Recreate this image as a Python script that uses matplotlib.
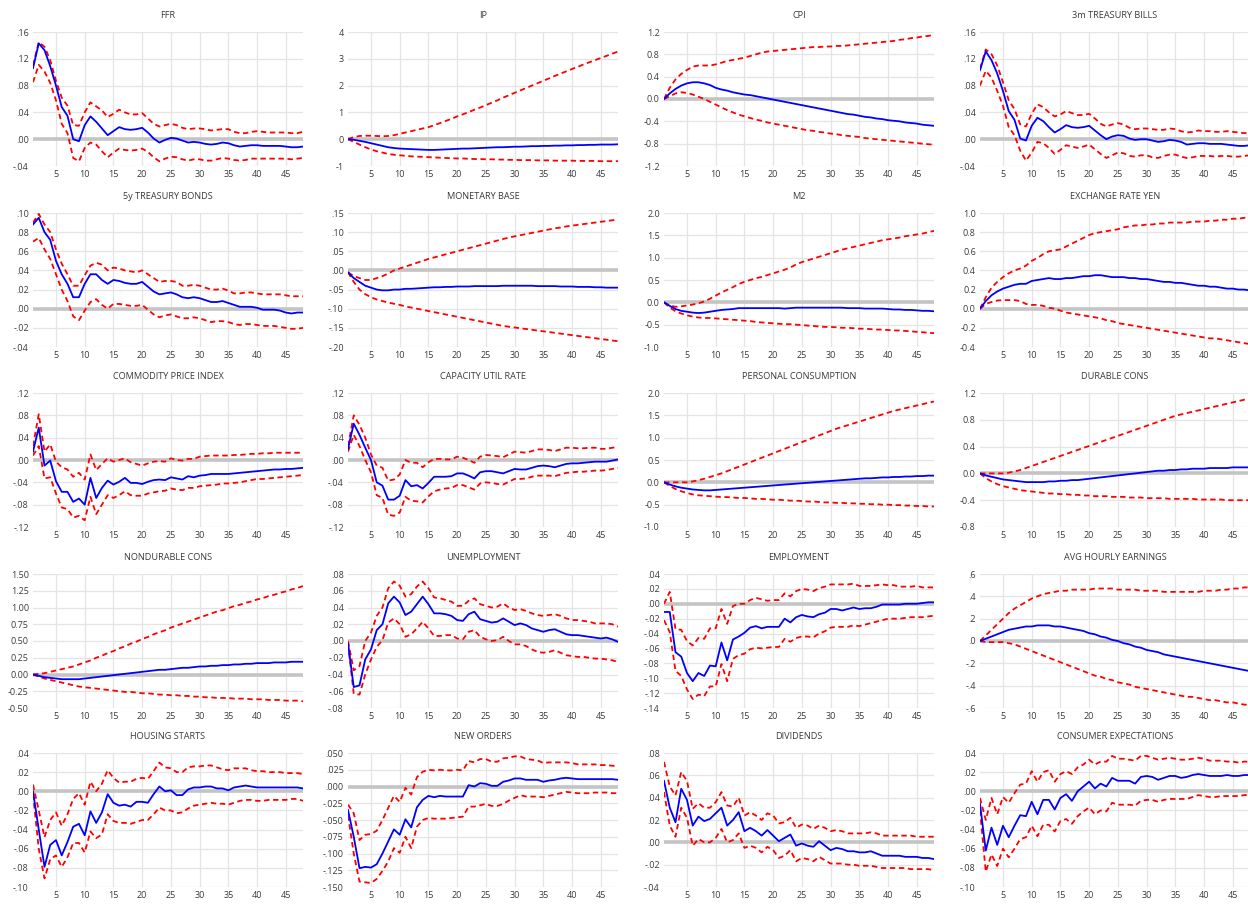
import matplotlib.pyplot as plt

plt.rcParams['font.family'] = ['Open Sans', 'DejaVu Sans']

periods = list(range(1, 49))

# impulse responses: point estimate (mid) with lower / upper bands
ffr_mid = [.106, .143, .133, .109, .080, .048, .035, .000, -.003, .021, .034, .026, .016, .006, .012, .018, .015, .014, .015, .017, .010, .001, -.005, -.001, .002, .001, -.002, -.005, -.004, -.005, -.007, -.008, -.007, -.005, -.006, -.009, -.011, -.010, -.009, -.009, -.010, -.010, -.010, -.010, -.011, -.012, -.012, -.011]
ffr_hi = [.110, .145, .138, .118, .087, .062, .050, .021, .020, .040, .055, .049, .043, .033, .038, .044, .040, .037, .037, .039, .031, .023, .019, .021, .023, .021, .017, .015, .016, .016, .015, .013, .014, .015, .015, .011, .009, .009, .011, .012, .011, .010, .010, .010, .010, .009, .009, .011]
ffr_lo = [.085, .111, .101, .084, .058, .023, .009, -.028, -.033, -.013, -.005, -.008, -.018, -.027, -.020, -.014, -.016, -.017, -.016, -.014, -.019, -.027, -.033, -.029, -.026, -.027, -.030, -.032, -.030, -.030, -.032, -.032, -.030, -.028, -.029, -.031, -.032, -.031, -.029, -.029, -.029, -.029, -.029, -.029, -.029, -.030, -.029, -.028]

ip_mid = [0, -.02, -.06, -.10, -.15, -.20, -.25, -.30, -.33, -.35, -.36, -.37, -.38, -.39, -.40, -.40, -.39, -.38, -.37, -.36, -.35, -.35, -.34, -.33, -.32, -.31, -.30, -.30, -.29, -.28, -.28, -.27, -.26, -.26, -.25, -.25, -.24, -.24, -.23, -.23, -.22, -.22, -.21, -.21, -.20, -.20, -.20, -.19]
ip_hi = [0, .08, .12, .13, .13, .12, .11, .12, .15, .20, .25, .30, .35, .40, .45, .52, .60, .68, .76, .85, .93, 1.01, 1.10, 1.18, 1.27, 1.36, 1.45, 1.55, 1.64, 1.73, 1.82, 1.91, 2.00, 2.09, 2.18, 2.27, 2.36, 2.45, 2.53, 2.62, 2.70, 2.79, 2.87, 2.95, 3.03, 3.11, 3.19, 3.27]
ip_lo = [0, -.10, -.20, -.30, -.38, -.45, -.50, -.55, -.58, -.60, -.62, -.64, -.65, -.66, -.67, -.68, -.69, -.70, -.71, -.72, -.72, -.73, -.74, -.74, -.75, -.75, -.76, -.76, -.77, -.77, -.78, -.78, -.78, -.79, -.79, -.79, -.80, -.80, -.80, -.80, -.81, -.81, -.81, -.81, -.82, -.82, -.82, -.82]

cpi_mid = [0, .10, .18, .24, .28, .30, .30, .28, .25, .20, .17, .15, .12, .10, .08, .07, .05, .03, .01, -.01, -.03, -.05, -.07, -.09, -.11, -.13, -.15, -.17, -.19, -.21, -.23, -.25, -.27, -.28, -.30, -.32, -.33, -.35, -.36, -.38, -.39, -.40, -.42, -.43, -.44, -.46, -.47, -.48]
cpi_hi = [0, .20, .35, .45, .52, .58, .60, .60, .60, .62, .65, .68, .70, .72, .74, .77, .80, .83, .85, .86, .87, .88, .89, .90, .91, .92, .93, .93, .94, .94, .95, .95, .96, .97, .98, .99, 1.00, 1.01, 1.02, 1.03, 1.04, 1.06, 1.07, 1.09, 1.10, 1.12, 1.13, 1.15]
cpi_lo = [0, .05, .10, .12, .11, .08, .04, 0, -.05, -.10, -.15, -.20, -.24, -.28, -.31, -.34, -.37, -.39, -.42, -.44, -.46, -.48, -.50, -.52, -.54, -.56, -.57, -.59, -.60, -.62, -.63, -.65, -.66, -.67, -.68, -.70, -.71, -.72, -.73, -.74, -.75, -.76, -.77, -.78, -.79, -.80, -.81, -.82]

tb3_mid = [.103, .131, .118, .098, .072, .042, .029, .001, -.002, .020, .032, .027, .018, .010, .015, .021, .018, .017, .018, .020, .013, .006, .000, .004, .006, .005, .001, -.001, .000, .000, -.002, -.004, -.003, -.001, -.002, -.004, -.008, -.007, -.006, -.006, -.007, -.007, -.007, -.008, -.009, -.010, -.010, -.009]
tb3_hi = [.105, .134, .127, .110, .085, .058, .045, .022, .019, .038, .052, .048, .040, .034, .037, .042, .039, .036, .036, .038, .031, .023, .019, .022, .024, .022, .017, .015, .016, .016, .015, .014, .014, .016, .015, .012, .010, .011, .013, .012, .012, .011, .011, .012, .011, .010, .009, .010]
tb3_lo = [.080, .102, .092, .072, .050, .018, .006, -.017, -.032, -.020, -.004, -.006, -.013, -.022, -.016, -.009, -.011, -.013, -.011, -.008, -.015, -.022, -.028, -.024, -.020, -.021, -.025, -.026, -.024, -.024, -.027, -.028, -.025, -.023, -.023, -.026, -.028, -.027, -.025, -.025, -.025, -.026, -.025, -.025, -.026, -.026, -.025, -.024]

tb5_mid = [.088, .095, .080, .072, .050, .036, .026, .012, .012, .026, .036, .036, .030, .026, .030, .029, .027, .026, .026, .028, .023, .018, .015, .016, .017, .015, .012, .011, .012, .011, .009, .007, .007, .008, .006, .004, .002, .002, .002, .001, -.001, -.001, -.001, -.002, -.004, -.005, -.004, -.004]
tb5_hi = [.090, .099, .088, .080, .062, .047, .036, .024, .024, .035, .045, .048, .046, .040, .043, .042, .040, .039, .038, .040, .036, .032, .028, .029, .029, .028, .024, .024, .025, .024, .022, .020, .020, .021, .019, .016, .016, .017, .017, .016, .015, .015, .015, .015, .014, .013, .013, .013]
tb5_lo = [.070, .074, .062, .052, .036, .020, .008, -.008, -.012, -.002, .007, .010, .004, .000, .005, .005, .004, .003, .003, .004, -.001, -.006, -.009, -.007, -.006, -.008, -.010, -.010, -.009, -.010, -.012, -.014, -.013, -.013, -.014, -.016, -.017, -.016, -.016, -.017, -.018, -.018, -.018, -.019, -.020, -.021, -.021, -.020]

mb_mid = [-.005, -.020, -.030, -.040, -.045, -.050, -.052, -.052, -.050, -.050, -.048, -.048, -.047, -.046, -.045, -.044, -.044, -.043, -.043, -.042, -.042, -.042, -.041, -.041, -.041, -.041, -.041, -.040, -.040, -.040, -.040, -.040, -.040, -.041, -.041, -.041, -.041, -.042, -.042, -.042, -.043, -.043, -.043, -.044, -.044, -.045, -.045, -.045]
mb_hi = [-.005, -.015, -.020, -.025, -.025, -.020, -.015, -.008, .000, .005, .010, .015, .020, .025, .030, .034, .038, .042, .046, .050, .054, .058, .062, .066, .070, .074, .078, .082, .086, .089, .092, .095, .098, .101, .104, .107, .110, .112, .115, .117, .119, .121, .123, .125, .127, .129, .131, .133]
mb_lo = [-.005, -.030, -.050, -.062, -.070, -.076, -.080, -.084, -.087, -.090, -.094, -.097, -.100, -.103, -.106, -.109, -.112, -.115, -.118, -.121, -.124, -.127, -.130, -.133, -.136, -.139, -.142, -.145, -.147, -.149, -.151, -.153, -.155, -.157, -.159, -.161, -.163, -.165, -.167, -.169, -.171, -.173, -.175, -.177, -.179, -.181, -.183, -.185]

m2_mid = [0, -.08, -.15, -.19, -.21, -.23, -.24, -.23, -.21, -.19, -.17, -.16, -.15, -.13, -.13, -.13, -.13, -.13, -.13, -.13, -.13, -.14, -.13, -.12, -.12, -.12, -.12, -.12, -.12, -.12, -.12, -.12, -.13, -.13, -.13, -.14, -.14, -.14, -.14, -.15, -.16, -.16, -.17, -.17, -.18, -.19, -.19, -.20]
m2_hi = [0, -.07, -.10, -.09, -.07, -.05, -.02, .02, .08, .15, .22, .28, .34, .41, .46, .50, .54, .57, .61, .65, .69, .73, .78, .85, .90, .94, .98, 1.02, 1.06, 1.10, 1.14, 1.18, 1.21, 1.24, 1.27, 1.30, 1.33, 1.36, 1.39, 1.41, 1.43, 1.45, 1.48, 1.50, 1.52, 1.54, 1.57, 1.60]
m2_lo = [0, -.12, -.20, -.25, -.29, -.32, -.34, -.35, -.35, -.36, -.37, -.38, -.39, -.40, -.41, -.42, -.44, -.45, -.46, -.47, -.48, -.49, -.49, -.50, -.51, -.52, -.53, -.54, -.55, -.55, -.56, -.57, -.57, -.58, -.59, -.59, -.60, -.61, -.61, -.62, -.63, -.63, -.64, -.65, -.66, -.67, -.68, -.69]

yen_mid = [0, .08, .14, .18, .21, .23, .25, .26, .26, .29, .30, .31, .32, .31, .31, .32, .32, .33, .34, .34, .35, .35, .34, .33, .33, .33, .32, .32, .31, .31, .30, .29, .28, .28, .27, .27, .26, .25, .24, .24, .23, .23, .22, .21, .21, .20, .20, .19]
yen_hi = [0, .12, .22, .28, .33, .37, .40, .42, .45, .50, .53, .57, .60, .61, .62, .65, .68, .71, .74, .77, .79, .80, .81, .82, .83, .85, .86, .87, .87, .88, .88, .89, .89, .90, .90, .90, .90, .91, .91, .91, .92, .92, .93, .93, .94, .94, .95, .95]
yen_lo = [0, .05, .07, .085, .09, .09, .09, .08, .05, .04, .04, .03, .01, 0, -.02, -.04, -.05, -.06, -.07, -.08, -.09, -.10, -.12, -.13, -.15, -.16, -.17, -.18, -.19, -.20, -.21, -.22, -.23, -.24, -.25, -.26, -.27, -.28, -.29, -.30, -.31, -.31, -.32, -.33, -.34, -.35, -.36, -.37]

cpx_mid = [.015, .058, -.010, -.001, -.038, -.057, -.057, -.075, -.069, -.080, -.032, -.068, -.050, -.037, -.044, -.039, -.032, -.041, -.041, -.043, -.039, -.036, -.035, -.036, -.031, -.033, -.035, -.029, -.031, -.028, -.027, -.025, -.025, -.025, -.025, -.024, -.023, -.022, -.021, -.020, -.019, -.018, -.017, -.017, -.016, -.016, -.015, -.014]
cpx_hi = [.025, .082, .015, .028, -.003, -.013, -.017, -.030, -.023, -.035, .010, -.018, -.007, .003, -.003, .000, .003, -.004, -.007, -.010, -.006, -.003, -.002, -.003, .003, .000, -.001, .002, .002, .006, .007, .008, .008, .008, .008, .009, .009, .010, .011, .011, .012, .012, .013, .013, .013, .013, .013, .013]
cpx_lo = [.008, .025, -.033, -.031, -.060, -.085, -.088, -.103, -.100, -.108, -.066, -.097, -.080, -.063, -.068, -.063, -.056, -.063, -.064, -.064, -.060, -.058, -.056, -.055, -.051, -.053, -.054, -.050, -.050, -.047, -.046, -.045, -.044, -.042, -.042, -.041, -.040, -.038, -.036, -.034, -.034, -.033, -.032, -.031, -.030, -.029, -.028, -.027]

cu_mid = [.020, .065, .045, .022, .000, -.040, -.046, -.071, -.071, -.064, -.036, -.047, -.045, -.051, -.041, -.030, -.030, -.030, -.029, -.024, -.024, -.028, -.033, -.022, -.020, -.020, -.022, -.024, -.020, -.016, -.017, -.017, -.014, -.011, -.010, -.011, -.013, -.010, -.007, -.006, -.006, -.005, -.004, -.003, -.003, -.003, -.001, .001]
cu_hi = [.025, .080, .063, .040, .010, -.010, -.014, -.037, -.035, -.026, .000, -.005, -.005, -.013, -.004, .002, .002, .001, .001, .006, .004, .000, -.005, .006, .009, .008, .007, .005, .010, .015, .014, .013, .016, .019, .019, .018, .016, .019, .022, .022, .021, .021, .022, .022, .020, .020, .022, .023]
cu_lo = [.015, .045, .025, .000, -.022, -.063, -.068, -.098, -.100, -.094, -.066, -.073, -.074, -.076, -.065, -.056, -.053, -.051, -.050, -.045, -.045, -.049, -.053, -.042, -.040, -.041, -.043, -.044, -.039, -.034, -.034, -.033, -.030, -.028, -.028, -.028, -.029, -.026, -.023, -.022, -.021, -.021, -.020, -.019, -.019, -.018, -.016, -.014]

pc_mid = [0, -.05, -.09, -.12, -.14, -.16, -.17, -.18, -.18, -.17, -.16, -.15, -.14, -.13, -.12, -.11, -.10, -.09, -.08, -.07, -.06, -.05, -.04, -.03, -.02, -.01, 0, .01, .02, .03, .04, .05, .06, .07, .08, .09, .09, .10, .11, .11, .12, .12, .13, .13, .14, .14, .15, .15]
pc_hi = [0, 0, 0, 0, 0, .02, .05, .08, .12, .16, .20, .25, .30, .35, .40, .45, .50, .55, .60, .65, .70, .75, .80, .85, .90, .95, 1.00, 1.05, 1.10, 1.15, 1.20, 1.24, 1.28, 1.32, 1.36, 1.40, 1.44, 1.48, 1.52, 1.56, 1.60, 1.63, 1.66, 1.69, 1.72, 1.75, 1.78, 1.81]
pc_lo = [0, -.08, -.15, -.20, -.24, -.27, -.29, -.30, -.31, -.32, -.33, -.33, -.34, -.35, -.35, -.36, -.37, -.37, -.38, -.39, -.39, -.40, -.41, -.41, -.42, -.43, -.43, -.44, -.45, -.45, -.46, -.46, -.47, -.47, -.48, -.48, -.49, -.49, -.50, -.50, -.51, -.51, -.52, -.52, -.53, -.53, -.54, -.54]

dc_mid = [0, -.03, -.05, -.07, -.09, -.10, -.11, -.12, -.13, -.13, -.13, -.13, -.12, -.12, -.11, -.11, -.10, -.10, -.09, -.08, -.07, -.06, -.05, -.04, -.03, -.02, -.01, 0, .01, .02, .03, .04, .04, .05, .05, .06, .06, .07, .07, .07, .08, .08, .08, .08, .09, .09, .09, .09]
dc_hi = [0, 0, 0, 0, 0, .01, .03, .05, .08, .11, .14, .17, .20, .23, .26, .29, .32, .35, .38, .41, .44, .47, .50, .53, .56, .59, .62, .65, .68, .71, .74, .77, .80, .83, .86, .88, .90, .92, .94, .96, .98, 1.00, 1.02, 1.04, 1.06, 1.08, 1.10, 1.11]
dc_lo = [0, -.07, -.12, -.16, -.19, -.21, -.23, -.25, -.26, -.27, -.28, -.29, -.30, -.30, -.31, -.31, -.32, -.32, -.33, -.33, -.34, -.34, -.34, -.35, -.35, -.35, -.36, -.36, -.36, -.37, -.37, -.37, -.37, -.38, -.38, -.38, -.38, -.38, -.39, -.39, -.39, -.39, -.39, -.40, -.40, -.40, -.40, -.40]

ndc_mid = [0, -.02, -.04, -.05, -.06, -.07, -.07, -.07, -.07, -.06, -.05, -.04, -.03, -.02, -.01, 0, .01, .02, .03, .04, .05, .06, .07, .07, .08, .09, .10, .10, .11, .12, .12, .13, .13, .14, .14, .15, .15, .16, .16, .17, .17, .17, .18, .18, .18, .19, .19, .19]
ndc_hi = [0, .01, .02, .04, .06, .08, .10, .12, .15, .18, .21, .25, .28, .32, .35, .39, .42, .46, .49, .53, .56, .60, .63, .66, .70, .73, .76, .79, .82, .85, .88, .91, .94, .96, .99, 1.02, 1.04, 1.07, 1.09, 1.12, 1.14, 1.17, 1.19, 1.22, 1.24, 1.27, 1.29, 1.32]
ndc_lo = [0, -.03, -.06, -.08, -.10, -.12, -.14, -.16, -.18, -.19, -.20, -.21, -.22, -.23, -.24, -.25, -.26, -.26, -.27, -.28, -.28, -.29, -.30, -.30, -.31, -.31, -.32, -.32, -.33, -.33, -.34, -.34, -.35, -.35, -.35, -.36, -.36, -.36, -.37, -.37, -.37, -.38, -.38, -.38, -.39, -.39, -.39, -.40]

un_mid = [-.003, -.055, -.053, -.022, -.010, .013, .020, .045, .053, .046, .031, .035, .044, .053, .044, .033, .033, .032, .030, .025, .024, .032, .035, .026, .024, .022, .023, .027, .023, .019, .021, .019, .015, .013, .011, .013, .014, .011, .008, .007, .007, .006, .005, .004, .003, .004, .002, -.001]
un_hi = [.000, -.035, -.030, .000, .010, .030, .040, .063, .071, .066, .053, .056, .065, .071, .063, .052, .051, .049, .047, .042, .042, .048, .051, .044, .042, .040, .041, .045, .040, .037, .038, .036, .033, .031, .030, .031, .032, .030, .027, .025, .025, .024, .023, .021, .021, .021, .020, .017]
un_lo = [-.003, -.063, -.064, -.040, -.022, -.007, .001, .022, .027, .020, .005, .008, .015, .023, .015, .006, .006, .007, .007, .003, .002, .011, .013, .005, .002, .000, .001, .005, .000, -.004, -.004, -.006, -.010, -.013, -.014, -.013, -.011, -.014, -.017, -.018, -.019, -.019, -.020, -.021, -.021, -.022, -.023, -.025]

emp_mid = [-.011, -.011, -.065, -.071, -.093, -.104, -.093, -.097, -.083, -.084, -.052, -.076, -.048, -.044, -.039, -.032, -.030, -.033, -.031, -.031, -.031, -.020, -.025, -.018, -.015, -.017, -.018, -.014, -.012, -.007, -.007, -.009, -.007, -.005, -.007, -.006, -.006, -.004, -.001, -.001, -.001, -.001, .000, .000, .000, .001, .002, .002]
emp_hi = [.000, .016, -.034, -.035, -.050, -.056, -.046, -.047, -.033, -.033, -.007, -.027, -.003, .000, .000, .005, .008, .006, .004, .005, .005, .014, .010, .017, .020, .019, .017, .021, .023, .026, .026, .026, .026, .027, .024, .024, .024, .025, .026, .025, .025, .023, .023, .023, .024, .022, .022, .022]
emp_lo = [-.022, -.038, -.090, -.097, -.115, -.128, -.122, -.124, -.111, -.111, -.081, -.104, -.074, -.069, -.067, -.061, -.059, -.060, -.059, -.058, -.058, -.047, -.051, -.046, -.044, -.044, -.045, -.040, -.037, -.032, -.031, -.031, -.031, -.029, -.030, -.028, -.026, -.024, -.022, -.020, -.020, -.020, -.019, -.018, -.018, -.018, -.017, -.016]

ahe_mid = [0, .02, .04, .06, .08, .10, .11, .12, .13, .13, .14, .14, .14, .13, .13, .12, .11, .10, .09, .07, .06, .04, .03, .01, 0, -.02, -.03, -.05, -.06, -.08, -.09, -.10, -.12, -.13, -.14, -.15, -.16, -.17, -.18, -.19, -.20, -.21, -.22, -.23, -.24, -.25, -.26, -.27]
ahe_hi = [0, .05, .10, .15, .20, .25, .29, .32, .35, .38, .40, .42, .43, .44, .45, .45, .46, .46, .46, .46, .47, .47, .47, .47, .46, .46, .46, .46, .45, .45, .45, .45, .44, .44, .44, .44, .44, .44, .44, .45, .45, .45, .46, .46, .47, .47, .48, .48]
ahe_lo = [0, -.01, -.01, -.01, -.01, -.02, -.03, -.05, -.07, -.09, -.11, -.13, -.15, -.17, -.19, -.21, -.23, -.25, -.27, -.29, -.31, -.32, -.34, -.35, -.37, -.38, -.39, -.41, -.42, -.43, -.44, -.45, -.46, -.47, -.48, -.49, -.50, -.50, -.51, -.52, -.53, -.53, -.54, -.55, -.55, -.56, -.57, -.57]

hs_mid = [.000, -.040, -.079, -.056, -.051, -.067, -.053, -.037, -.034, -.046, -.021, -.033, -.022, -.003, -.012, -.015, -.014, -.016, -.011, -.011, -.012, -.003, .005, .000, .001, -.004, -.004, .002, .004, .004, .005, .005, .003, .003, .001, .004, .005, .006, .005, .004, .004, .004, .004, .004, .004, .004, .004, .003]
hs_hi = [.007, -.020, -.048, -.030, -.022, -.036, -.024, -.008, -.002, -.014, .010, .000, .008, .022, .014, .009, .010, .010, .013, .014, .013, .021, .030, .025, .024, .020, .020, .025, .026, .026, .027, .027, .025, .023, .022, .024, .024, .024, .022, .021, .021, .020, .020, .020, .019, .019, .019, .018]
hs_lo = [-.003, -.060, -.091, -.071, -.067, -.079, -.069, -.054, -.054, -.064, -.042, -.049, -.045, -.024, -.031, -.033, -.033, -.034, -.032, -.030, -.030, -.024, -.017, -.020, -.020, -.023, -.022, -.018, -.015, -.014, -.013, -.012, -.013, -.013, -.014, -.012, -.010, -.009, -.009, -.010, -.010, -.009, -.009, -.009, -.009, -.008, -.008, -.010]

no_mid = [-.035, -.075, -.122, -.120, -.121, -.116, -.100, -.082, -.064, -.072, -.049, -.061, -.031, -.020, -.014, -.016, -.014, -.015, -.015, -.015, -.015, .002, .000, .005, .004, .001, .001, .007, .009, .012, .012, .010, .010, .010, .007, .009, .010, .012, .013, .012, .011, .011, .011, .011, .011, .011, .011, .010]
no_hi = [-.027, -.040, -.080, -.072, -.071, -.066, -.050, -.032, -.014, -.023, -.002, -.012, .014, .022, .025, .024, .025, .024, .024, .025, .024, .038, .036, .041, .041, .037, .037, .042, .043, .045, .045, .041, .040, .039, .035, .036, .036, .036, .036, .035, .033, .033, .033, .033, .032, .032, .031, .030]
no_lo = [-.043, -.100, -.142, -.143, -.144, -.138, -.126, -.112, -.092, -.099, -.075, -.092, -.060, -.050, -.047, -.048, -.048, -.048, -.047, -.046, -.045, -.030, -.030, -.028, -.026, -.029, -.029, -.026, -.021, -.017, -.013, -.015, -.015, -.015, -.016, -.014, -.012, -.010, -.008, -.009, -.010, -.010, -.010, -.009, -.009, -.009, -.010, -.010]

dv_mid = [.055, .031, .018, .048, .038, .015, .023, .019, .021, .026, .031, .015, .020, .027, .010, .013, .010, .006, .011, .006, .001, .004, .007, -.003, -.001, -.003, -.004, .001, -.003, -.007, -.005, -.006, -.008, -.008, -.009, -.009, -.008, -.010, -.012, -.012, -.012, -.012, -.013, -.013, -.013, -.014, -.014, -.015]
dv_hi = [.072, .050, .042, .063, .055, .030, .035, .031, .031, .036, .045, .033, .032, .040, .024, .027, .024, .020, .026, .024, .017, .018, .022, .013, .016, .015, .012, .015, .013, .010, .011, .010, .008, .008, .008, .008, .009, .008, .006, .006, .006, .006, .006, .006, .005, .005, .005, .005]
dv_lo = [.045, .015, .005, .031, .022, -.003, .003, .000, .000, .004, .012, .000, .002, .008, -.005, -.003, -.005, -.009, -.004, -.007, -.014, -.012, -.007, -.017, -.014, -.015, -.017, -.013, -.016, -.019, -.019, -.019, -.020, -.020, -.021, -.021, -.021, -.022, -.023, -.023, -.023, -.023, -.023, -.024, -.024, -.024, -.024, -.025]

ce_mid = [-.013, -.062, -.038, -.056, -.036, -.048, -.036, -.025, -.026, -.011, -.024, -.009, -.009, -.019, -.007, -.003, -.010, .000, .005, .010, .003, .008, .005, .014, .011, .011, .011, .008, .015, .016, .015, .012, .014, .016, .016, .014, .015, .017, .018, .017, .016, .016, .016, .017, .016, .016, .017, .017]
ce_hi = [-.007, -.030, -.007, -.024, -.006, -.012, -.002, .007, .008, .021, .010, .020, .022, .010, .018, .021, .018, .025, .028, .033, .028, .031, .031, .037, .034, .034, .033, .032, .037, .037, .035, .033, .034, .035, .034, .033, .033, .034, .035, .034, .032, .032, .032, .031, .031, .030, .031, .031]
ce_lo = [-.020, -.084, -.066, -.078, -.060, -.069, -.060, -.050, -.048, -.036, -.047, -.035, -.035, -.042, -.031, -.029, -.034, -.026, -.021, -.017, -.024, -.020, -.021, -.012, -.014, -.014, -.014, -.015, -.010, -.009, -.009, -.011, -.009, -.008, -.008, -.008, -.008, -.006, -.004, -.005, -.006, -.006, -.005, -.005, -.005, -.005, -.004, -.004]

# y-axis tick labels, bottom to top
ticks_small = ['-.04', '.00', '.04', '.08', '.12', '.16']
ticks_ip = ['-1', '0', '1', '2', '3', '4']
ticks_cpi = ['-1.2', '-0.8', '-0.4', '0.0', '0.4', '0.8', '1.2']
ticks_tb5 = ['-.04', '-.02', '.00', '.02', '.04', '.06', '.08', '.10']
ticks_mb = ['-.20', '-.15', '-.10', '-.05', '.00', '.05', '.10', '.15']
ticks_m2 = ['-1.0', '-0.5', '0.0', '0.5', '1.0', '1.5', '2.0']
ticks_yen = ['-0.4', '-0.2', '0.0', '0.2', '0.4', '0.6', '0.8', '1.0']
ticks_12 = ['-.12', '-.08', '-.04', '.00', '.04', '.08', '.12']
ticks_pc = ['-1.0', '-0.5', '0.0', '0.5', '1.0', '1.5', '2.0']
ticks_dc = ['-0.8', '-0.4', '0.0', '0.4', '0.8', '1.2']
ticks_ndc = ['-0.50', '-0.25', '0.00', '0.25', '0.50', '0.75', '1.00', '1.25', '1.50']
ticks_un = ['-.08', '-.06', '-.04', '-.02', '.00', '.02', '.04', '.06', '.08']
ticks_emp = ['-.14', '-.12', '-.10', '-.08', '-.06', '-.04', '-.02', '.00', '.02', '.04']
ticks_ahe = ['-.6', '-.4', '-.2', '.0', '.2', '.4', '.6']
ticks_hs = ['-.10', '-.08', '-.06', '-.04', '-.02', '.00', '.02', '.04']
ticks_no = ['-.150', '-.125', '-.100', '-.075', '-.050', '-.025', '.000', '.025', '.050']
ticks_dv = ['-.04', '-.02', '.00', '.02', '.04', '.06', '.08']
ticks_ce = ['-.10', '-.08', '-.06', '-.04', '-.02', '.00', '.02', '.04']

panels = [
    ('FFR', ffr_lo, ffr_mid, ffr_hi, ticks_small),
    ('IP', ip_lo, ip_mid, ip_hi, ticks_ip),
    ('CPI', cpi_lo, cpi_mid, cpi_hi, ticks_cpi),
    ('3m TREASURY BILLS', tb3_lo, tb3_mid, tb3_hi, ticks_small),
    ('5y TREASURY BONDS', tb5_lo, tb5_mid, tb5_hi, ticks_tb5),
    ('MONETARY BASE', mb_lo, mb_mid, mb_hi, ticks_mb),
    ('M2', m2_lo, m2_mid, m2_hi, ticks_m2),
    ('EXCHANGE RATE YEN', yen_lo, yen_mid, yen_hi, ticks_yen),
    ('COMMODITY PRICE INDEX', cpx_lo, cpx_mid, cpx_hi, ticks_12),
    ('CAPACITY UTIL RATE', cu_lo, cu_mid, cu_hi, ticks_12),
    ('PERSONAL CONSUMPTION', pc_lo, pc_mid, pc_hi, ticks_pc),
    ('DURABLE CONS', dc_lo, dc_mid, dc_hi, ticks_dc),
    ('NONDURABLE CONS', ndc_lo, ndc_mid, ndc_hi, ticks_ndc),
    ('UNEMPLOYMENT', un_lo, un_mid, un_hi, ticks_un),
    ('EMPLOYMENT', emp_lo, emp_mid, emp_hi, ticks_emp),
    ('AVG HOURLY EARNINGS', ahe_lo, ahe_mid, ahe_hi, ticks_ahe),
    ('HOUSING STARTS', hs_lo, hs_mid, hs_hi, ticks_hs),
    ('NEW ORDERS', no_lo, no_mid, no_hi, ticks_no),
    ('DIVIDENDS', dv_lo, dv_mid, dv_hi, ticks_dv),
    ('CONSUMER EXPECTATIONS', ce_lo, ce_mid, ce_hi, ticks_ce),
]

W, H = 1248, 905
fig = plt.figure(figsize=(W / 100, H / 100), dpi=100)
fig.patch.set_facecolor('white')

col_left = [33, 348, 664, 980]
row_top = [32, 213, 393, 574, 753]
pw, ph = 270, 134
text_col = '#3a3a3a'
title_font = ['Liberation Sans Narrow', 'Open Sans', 'DejaVu Sans']

for i, (title, lo, mid, hi, ticks) in enumerate(panels):
    r, c = divmod(i, 4)
    ax = fig.add_axes([col_left[c] / W, 1 - (row_top[r] + ph) / H, pw / W, ph / H])
    yt = [float(s) for s in ticks]
    ax.set_xlim(1, 48)
    ax.set_ylim(yt[0], yt[-1])
    ax.set_xticks(range(5, 48, 5))
    ax.set_yticks(yt)
    ax.set_yticklabels(ticks)
    ax.grid(True, color='#e4e4e4', lw=0.9)
    ax.set_axisbelow(True)
    for s in ax.spines.values():
        s.set_visible(False)
    ax.tick_params(length=0, labelsize=6.5, colors=text_col, pad=3)
    ax.axhline(0, color='#c4c4c4', lw=2.6, zorder=1.5)
    ax.plot(periods, hi, color='#ff0000', lw=1.3, ls=(0, (3, 2)), zorder=2)
    ax.plot(periods, lo, color='#ff0000', lw=1.3, ls=(0, (3, 2)), zorder=2)
    ax.plot(periods, mid, color='#0000ff', lw=1.3, zorder=3)
    ax.text(0.5, 1 + 17 / ph, title, transform=ax.transAxes, ha='center',
            va='center', fontsize=6.6, color=text_col, family=title_font)

fig.savefig('out.png', dpi=100, facecolor='white')
